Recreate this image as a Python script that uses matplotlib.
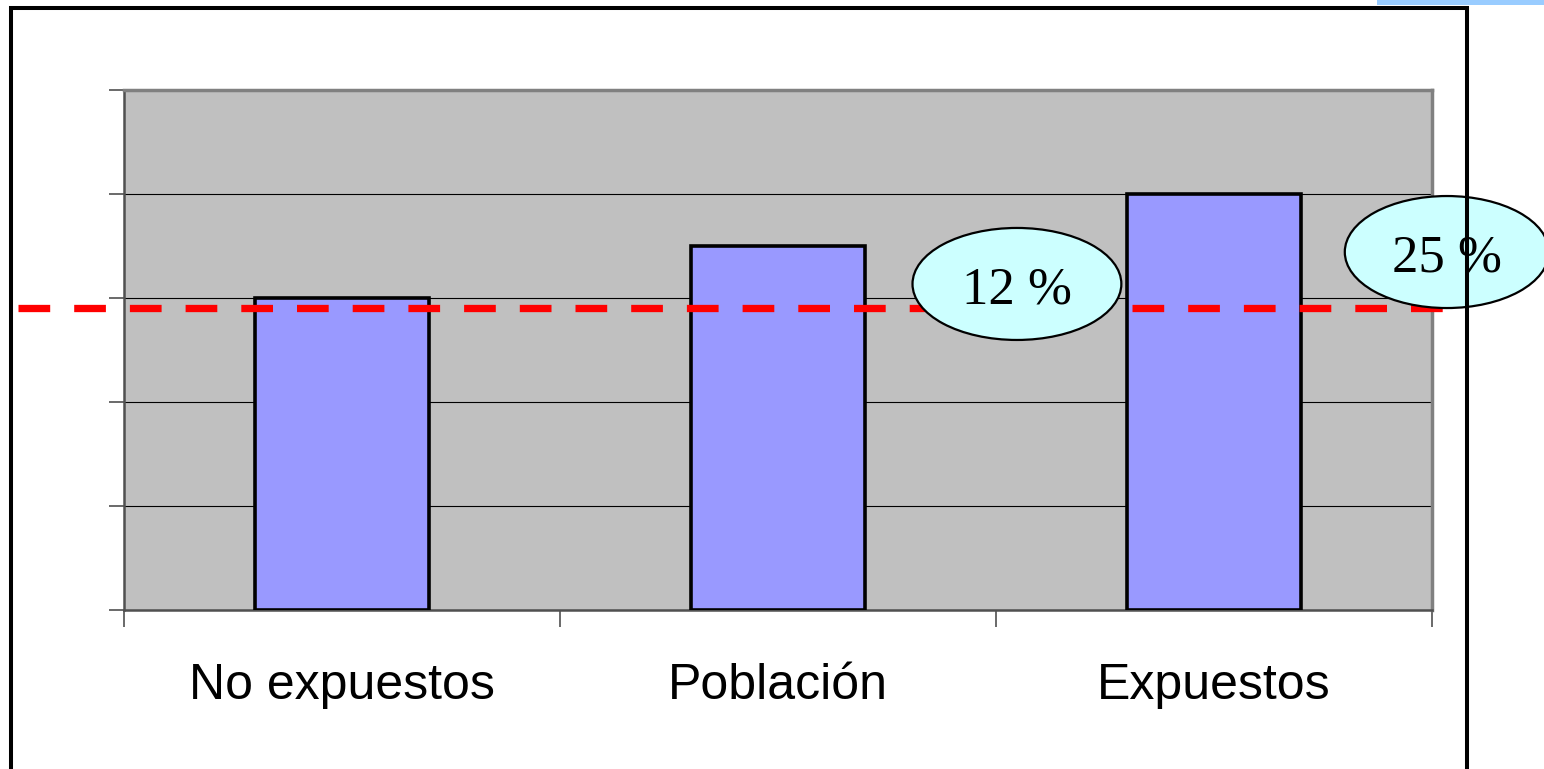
import matplotlib
matplotlib.use("Agg")
import matplotlib.pyplot as plt
from matplotlib.patches import Ellipse, Rectangle

# ---- data ----
categories = ["No expuestos", "Población", "Expuestos"]
values = [3.0, 3.5, 4.0]
ref_value = 2.9
y_max = 5
annot_labels = ["12 %", "25 %"]

# ---- figure ----
W, H, DPI = 1544, 769, 100
fig = plt.figure(figsize=(W / DPI, H / DPI), dpi=DPI)
fig.patch.set_facecolor("white")

def fx(px):
    return px / W

def fy(py):
    return 1 - py / H

ax = fig.add_axes([fx(124), fy(610), fx(1432) - fx(124), fy(90) - fy(610)])
ax.set_facecolor("#C0C0C0")

x = list(range(len(categories)))
ax.bar(x, values, width=0.4, color="#9999FF", edgecolor="black",
       linewidth=2.6, zorder=3)

ax.set_xlim(-0.5, len(categories) - 0.5)
ax.set_ylim(0, y_max)

# grid
ax.set_yticks(range(0, y_max + 1))
ax.set_yticklabels([])
ax.yaxis.grid(True, color="black", linewidth=0.8, zorder=1)
ax.set_axisbelow(True)

# x ticks: labels at centres, tick marks at boundaries
ax.set_xticks(x)
ax.set_xticklabels(categories, fontsize=36, family="Liberation Sans")
ax.tick_params(axis="x", which="major", length=0, pad=38)
ax.set_xticks([i - 0.5 for i in range(len(categories) + 1)], minor=True)
ax.tick_params(axis="x", which="minor", length=12, width=1.2, color="#505050",
               direction="out")
ax.tick_params(axis="y", which="major", length=11, width=1.2, color="#505050",
               direction="out")

for side in ["left", "bottom"]:
    ax.spines[side].set_color("#505050")
    ax.spines[side].set_linewidth(1.8)
for side in ["top", "right"]:
    ax.spines[side].set_color("#808080")
    ax.spines[side].set_linewidth(2.5)

# reference line
lw_px = 7.3
lw_pt = lw_px * 72 / DPI
ax.axhline(ref_value, xmin=(18 - 124) / 1308, xmax=(1450 - 124) / 1308,
           color="#FF0000", linewidth=lw_pt,
           linestyle=(0, (31.7 / lw_px, 24 / lw_px)),
           clip_on=False, zorder=4)

# annotation ellipses (centre x, centre y, width, height, text baseline y)
ell_specs = [
    (1.548, 3.135, 0.479, 1.077, 2.949),
    (2.534, 3.442, 0.468, 1.077, 3.250),
]
for (cx, cy, ew, eh, ty), lab in zip(ell_specs, annot_labels):
    e = Ellipse((cx, cy), ew, eh, facecolor="#CCFFFF", edgecolor="black",
                linewidth=1.6, clip_on=False, zorder=5)
    ax.add_patch(e)
    ax.text(cx, ty, lab, ha="center", va="baseline", fontsize=38,
            family="Liberation Serif", zorder=6, clip_on=False)

# outer frame
fig.patches.append(Rectangle((fx(11), fy(900)), fx(1467) - fx(11),
                             fy(8.5) - fy(900), transform=fig.transFigure,
                             fill=False, edgecolor="black", linewidth=2.9))
# light blue strip at top right
fig.patches.append(Rectangle((fx(1377), fy(5)), fx(1544) - fx(1377),
                             fy(0) - fy(5), transform=fig.transFigure,
                             facecolor="#99CCFF", edgecolor="none"))

fig.savefig("out.png", dpi=DPI)
